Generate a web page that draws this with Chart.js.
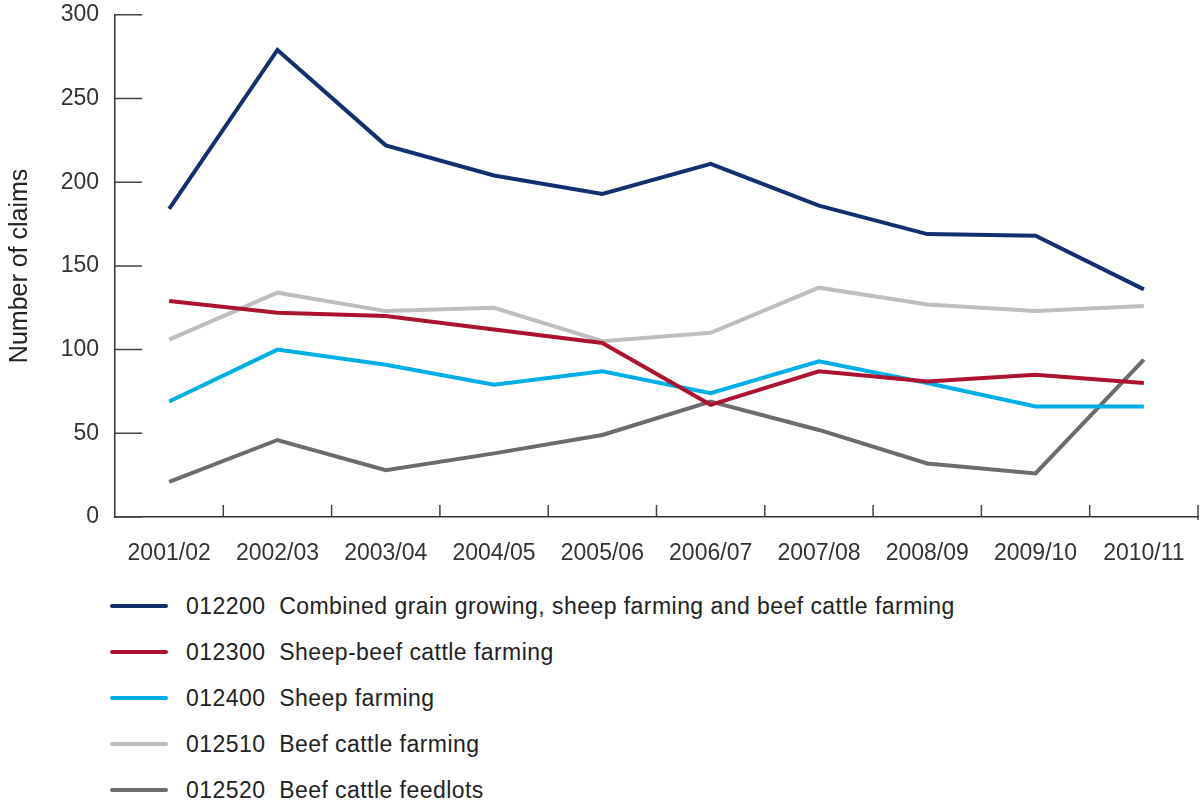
<!DOCTYPE html>
<html>
<head>
<meta charset="utf-8">
<script src="https://cdn.jsdelivr.net/npm/chart.js@4.4.1/dist/chart.umd.min.js"></script>
<style>
  body { margin: 0; background: #fff; font-family: "Liberation Sans", Arial, sans-serif; }
  #wrap { position: relative; width: 1200px; height: 582px; margin-top: -7px; }
  #legend { width: 1200px; padding-top: 8px; }
  .legend-row { height: 46px; margin-left: 110px; display: flex; align-items: center; }
  .legend-line { display: inline-block; width: 58px; height: 4px; border-radius: 2px; margin-right: 18px; }
  .legend-text { font-size: 23px; color: #222; white-space: pre; letter-spacing: 0.45px; }
</style>
</head>
<body>
<div id="wrap"><canvas id="claimsChart"></canvas></div>
<div id="legend"></div>
<script>
// Data
const categories = ['2001/02', '2002/03', '2003/04', '2004/05', '2005/06', '2006/07', '2007/08', '2008/09', '2009/10', '2010/11'];
const grainSheepBeef = [184, 279, 222, 204, 193, 211, 186, 169, 168, 136];
const sheepBeef = [129, 122, 120, 112, 104, 67, 87, 81, 85, 80];
const sheepFarming = [69, 100, 91, 79, 87, 74, 93, 80, 66, 66];
const beefCattle = [106, 134, 123, 125, 105, 110, 137, 127, 123, 126];
const feedlots = [21, 46, 28, 38, 49, 69, 52, 32, 26, 94];
const seriesLabels = [
    '012200  Combined grain growing, sheep farming and beef cattle farming',
    '012300  Sheep-beef cattle farming',
    '012400  Sheep farming',
    '012510  Beef cattle farming',
    '012520  Beef cattle feedlots'
];
const seriesColors = ['#12306f', '#ad1330', '#00aee6', '#bebec1', '#6b6c70'];
const yTicks = [0, 50, 100, 150, 200, 250, 300];

// Draw order: light grey first so the others sit on top
const seriesData = [grainSheepBeef, sheepBeef, sheepFarming, beefCattle, feedlots];
const drawOrder = [0, 1, 2, 4, 3];

// Short inner tick marks on both axes
const innerTicks = {
    id: 'innerTicks',
    afterDraw(chart) {
        const ctx = chart.ctx;
        const x = chart.scales.x;
        const y = chart.scales.y;
        const area = chart.chartArea;
        ctx.save();
        ctx.strokeStyle = '#444';
        ctx.lineWidth = 1.5;
        ctx.beginPath();
        yTicks.forEach(v => {
            const py = y.getPixelForValue(v);
            ctx.moveTo(area.left, py);
            ctx.lineTo(area.left + 27, py);
        });
        for (let i = 1; i < categories.length; i++) {
            const px = (x.getPixelForValue(i) + x.getPixelForValue(i - 1)) / 2;
            ctx.moveTo(px, area.bottom);
            ctx.lineTo(px, area.bottom - 12);
        }
        ctx.moveTo(area.right, area.bottom + 3);
        ctx.lineTo(area.right, area.bottom - 12);
        ctx.stroke();
        ctx.restore();
    }
};

function initChart() {
    const ctx = document.getElementById('claimsChart').getContext('2d');

    const datasets = seriesData.map((values, i) => ({
        label: seriesLabels[i],
        data: values,
        borderColor: seriesColors[i],
        borderWidth: 4,
        pointRadius: 0,
        tension: 0,
        fill: false,
        order: drawOrder[i]
    }));

    new Chart(ctx, {
        type: 'line',
        data: { labels: categories, datasets: datasets },
        options: {
            responsive: true,
            maintainAspectRatio: false,
            animation: false,
            layout: { padding: { top: 3, right: 2, left: 0, bottom: 0 } },
            plugins: {
                legend: { display: false },
                tooltip: { enabled: false }
            },
            scales: {
                x: {
                    offset: true,
                    grid: { display: false },
                    border: { display: true, color: '#333', width: 1.5 },
                    ticks: {
                        color: '#333',
                        font: { family: 'Liberation Sans', size: 23 },
                        padding: 15,
                        maxRotation: 0
                    },
                    afterFit(scale) { scale.height = 58; }
                },
                y: {
                    min: 0,
                    max: 300,
                    grid: { display: false },
                    border: { display: true, color: '#333', width: 1.5 },
                    afterBuildTicks(scale) { scale.ticks = yTicks.map(v => ({ value: v })); },
                    ticks: {
                        color: '#333',
                        font: { family: 'Liberation Sans', size: 23 },
                        padding: 8
                    },
                    title: {
                        display: true,
                        text: 'Number of claims',
                        color: '#222',
                        font: { family: 'Liberation Sans', size: 25 },
                        padding: { top: 5, bottom: 0 }
                    },
                    afterFit(scale) { scale.width = 115; }
                }
            }
        },
        plugins: [innerTicks]
    });
}

// HTML legend, stacked rows under the chart
function initLegend() {
    const legend = document.getElementById('legend');
    seriesLabels.forEach((label, i) => {
        const row = document.createElement('div');
        row.className = 'legend-row';
        const line = document.createElement('span');
        line.className = 'legend-line';
        line.style.background = seriesColors[i];
        const text = document.createElement('span');
        text.className = 'legend-text';
        text.textContent = label;
        row.appendChild(line);
        row.appendChild(text);
        legend.appendChild(row);
    });
}

initChart();
initLegend();
</script>
</body>
</html>
